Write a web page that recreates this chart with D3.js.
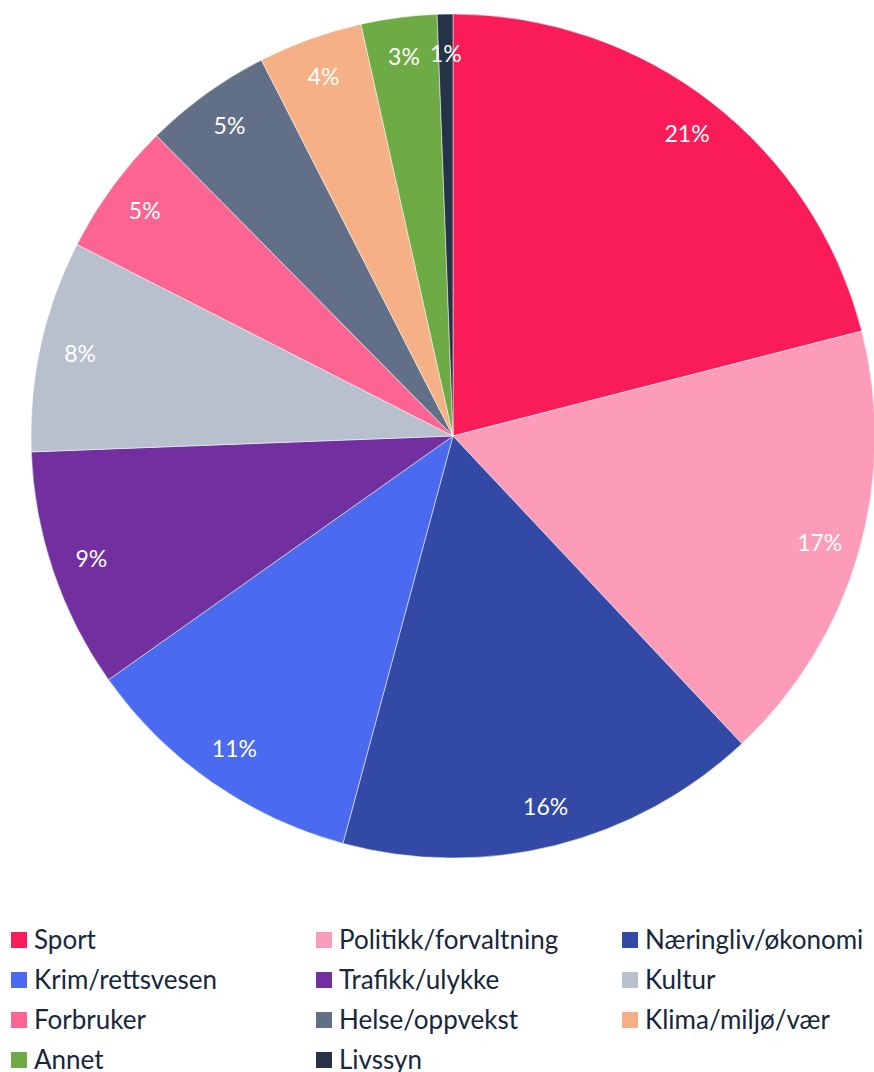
<!DOCTYPE html>
<html>
<head>
<meta charset="utf-8">
<script src="https://cdn.jsdelivr.net/npm/d3@7"></script>
<style>
  body { margin: 0; background: #fff; }
  text { font-family: Lato, "Noto Sans", sans-serif; }
</style>
</head>
<body>
<div id="chart"></div>
<script>
// categories, in the order they go round the pie (clockwise from 12 o'clock)
var categories = ["Sport", "Politikk/forvaltning", "Næringliv/økonomi", "Krim/rettsvesen",
                  "Trafikk/ulykke", "Kultur", "Forbruker", "Helse/oppvekst",
                  "Klima/miljø/vær", "Annet", "Livssyn"];
var shares = [21.0, 17.0, 16.2, 11.0, 9.2, 8.1, 5.1, 4.9, 4.0, 2.9, 0.6];
var labels = ["21%", "17%", "16%", "11%", "9%", "8%", "5%", "5%", "4%", "3%", "1%"];
var colours = ["#fa1c58", "#fc9cb8", "#324aa6", "#4a6bef", "#722f9f", "#b8bfcd",
               "#fc6591", "#627087", "#f5b185", "#6fab45", "#263245"];

var width = 874, height = 1072;
var cx = 453, cy = 436, radius = 422;

var svg = d3.select("#chart")
  .append("svg")
    .attr("width", width)
    .attr("height", height);

var data = categories.map(function(c, i) {
  return {name: c, value: shares[i], label: labels[i], colour: colours[i]};
});

var pie = d3.pie()
  .sort(null)
  .value(function(d) { return d.value; });

var arc = d3.arc()
  .innerRadius(0)
  .outerRadius(radius);

var labelArc = d3.arc()
  .innerRadius(radius * 0.905)
  .outerRadius(radius * 0.905);

var g = svg.append("g")
  .attr("transform", "translate(" + cx + "," + cy + ")");

g.selectAll("path")
  .data(pie(data))
  .enter()
  .append("path")
    .attr("d", arc)
    .style("fill", function(d) { return d.data.colour; })
    .style("stroke", "#ffffff")
    .style("stroke-width", 0.5);

g.selectAll("text.slice")
  .data(pie(data))
  .enter()
  .append("text")
    .attr("class", "slice")
    .attr("transform", function(d) { return "translate(" + labelArc.centroid(d) + ")"; })
    .attr("text-anchor", "middle")
    .attr("dy", "0.35em")
    .style("fill", "#ffffff")
    .style("font-size", "23px")
    .text(function(d) { return d.data.label; });

// legend: three columns
var colX = [11, 316, 622];
var rowY = 940, rowStep = 40;

var legend = svg.selectAll("g.legend")
  .data(data)
  .enter()
  .append("g")
    .attr("class", "legend")
    .attr("transform", function(d, i) {
      return "translate(" + colX[i % 3] + "," + (rowY + Math.floor(i / 3) * rowStep) + ")";
    });

legend.append("rect")
  .attr("x", 0)
  .attr("y", -8)
  .attr("width", 16)
  .attr("height", 16)
  .style("fill", function(d) { return d.colour; });

legend.append("text")
  .attr("x", 23)
  .attr("y", 0)
  .attr("dy", "0.35em")
  .style("font-size", "26px")
  .style("fill", "#16273d")
  .text(function(d) { return d.name; });
</script>
</body>
</html>
